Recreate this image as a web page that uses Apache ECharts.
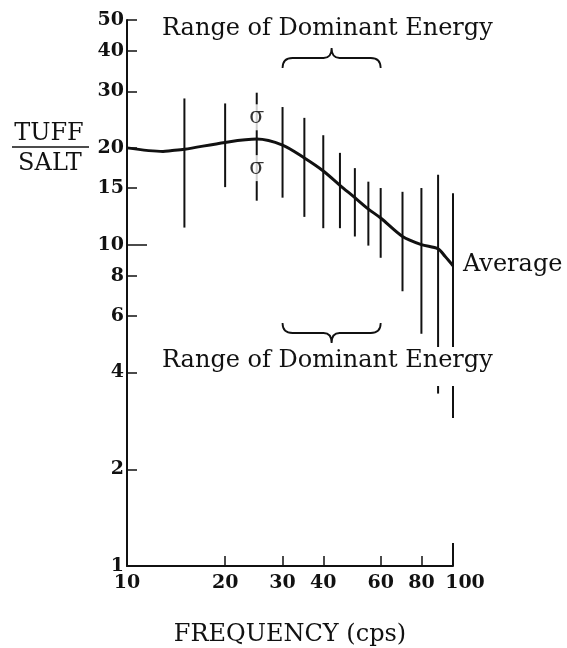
<!DOCTYPE html>
<html>
<head>
<meta charset="utf-8">
<script src="https://cdn.jsdelivr.net/npm/echarts@6/dist/echarts.min.js"></script>
<style>
  html, body { margin: 0; padding: 0; background: #fff; }
  #chart { width: 567px; height: 648px; }
</style>
</head>
<body>
<div id="chart"></div>
<script>
  // axis ticks
  const freqTicks = [10, 20, 30, 40, 60, 80, 100];
  const ratioTicks = [1, 2, 4, 6, 8, 10, 15, 20, 30, 40, 50];

  // average tuff/salt curve
  const avgFreq = [10, 12.9, 13.6, 15, 20, 25, 30, 35, 40, 45, 50, 55, 60, 70, 80, 90, 94.5, 100];
  const avgRatio = [20, 19.5, 19.6, 19.8, 20.8, 21.3, 20.4, 18.6, 16.95, 15.3, 14.0, 12.9, 12.1, 10.6, 10.0, 9.7, 9.2, 8.6];

  // scatter bars
  const barFreq = [15, 20, 25, 30, 35, 40, 45, 50, 55, 60, 70, 80, 90, 100];
  const barHigh = [28.5, 27.5, 29.7, 26.8, 24.8, 21.9, 19.3, 17.3, 15.7, 15.0, 14.6, 15.0, 16.5, 14.45];
  const barLow = [11.3, 15.1, 13.7, 14.0, 12.2, 11.25, 11.25, 10.6, 9.93, 9.1, 7.16, 5.28, 3.44, 2.89];

  // sigma marks on the 25 cps bar
  const sigmaFreq = [25, 25];
  const sigmaRatio = [24.9, 17.3];

  // range of dominant energy (cps)
  const dominantRange = [30, 60];

  const FONT = 'DejaVu Serif';
  const INK = '#111';

  const chart = echarts.init(document.getElementById('chart'));

  const tickLabel = {
    fontFamily: FONT,
    fontSize: 19,
    fontWeight: 'bold',
    color: INK
  };

  // curly brace between x1 and x2, ends at yEnd, cusp at yCusp
  function bracePath(x1, x2, yEnd, yMid, yCusp) {
    const xm = (x1 + x2) / 2;
    return 'M' + x1 + ',' + yEnd +
      'Q' + x1 + ',' + yMid + ',' + (x1 + 10) + ',' + yMid +
      'L' + (xm - 8) + ',' + yMid +
      'Q' + xm + ',' + yMid + ',' + xm + ',' + yCusp +
      'Q' + xm + ',' + yMid + ',' + (xm + 8) + ',' + yMid +
      'L' + (x2 - 10) + ',' + yMid +
      'Q' + x2 + ',' + yMid + ',' + x2 + ',' + yEnd;
  }

  const option = {
    animation: false,
    backgroundColor: '#fff',
    grid: { left: 127, top: 20, width: 326, height: 546, outerBoundsMode: 'none' },
    xAxis: [
      {
        type: 'log',
        logBase: 10,
        min: 10,
        max: 100,
        axisLine: { lineStyle: { color: INK, width: 2 } },
        axisTick: {
          inside: true,
          length: 10,
          customValues: [20, 30, 40, 60, 80],
          lineStyle: { color: INK, width: 1.5 }
        },
        axisLabel: Object.assign({}, tickLabel, {
          customValues: freqTicks,
          margin: 8,
          formatter: v => {
            const n = Math.round(v);
            return n === 100 ? '{r|100}' : String(n);
          },
          rich: { r: Object.assign({}, tickLabel, { padding: [0, 0, 0, 24] }) }
        }),
        splitLine: { show: false },
        name: 'FREQUENCY (cps)',
        nameLocation: 'middle',
        nameGap: 57,
        nameTextStyle: { fontFamily: FONT, fontSize: 24, color: INK }
      },
      {
        type: 'log',
        logBase: 10,
        min: 10,
        max: 100,
        position: 'bottom',
        axisLine: { show: false },
        axisLabel: { show: false },
        splitLine: { show: false },
        axisTick: {
          inside: true,
          length: 23,
          customValues: [100],
          lineStyle: { color: INK, width: 2 }
        }
      }
    ],
    yAxis: [
      {
        type: 'log',
        logBase: 10,
        min: 1,
        max: 50,
        position: 'left',
        axisLine: { lineStyle: { color: INK, width: 2 } },
        axisTick: {
          inside: true,
          length: 10,
          customValues: [2, 4, 6, 8, 15, 20, 30, 40, 50],
          lineStyle: { color: INK, width: 1.5 }
        },
        axisLabel: Object.assign({}, tickLabel, {
          customValues: ratioTicks,
          margin: 3,
          formatter: v => String(Math.round(v))
        }),
        splitLine: { show: false }
      },
      {
        type: 'log',
        logBase: 10,
        min: 1,
        max: 50,
        position: 'left',
        axisLine: { show: false },
        axisLabel: { show: false },
        splitLine: { show: false },
        axisTick: {
          inside: true,
          length: 20,
          customValues: [10],
          lineStyle: { color: INK, width: 1.5 }
        }
      }
    ],
    series: [
      {
        name: 'range',
        type: 'custom',
        data: barFreq.map((f, i) => [f, barLow[i], barHigh[i]]),
        encode: { x: 0, y: [1, 2] },
        z: 2,
        renderItem: (params, api) => {
          const lo = api.coord([api.value(0), api.value(1)]);
          const hi = api.coord([api.value(0), api.value(2)]);
          return {
            type: 'line',
            shape: { x1: lo[0], y1: lo[1], x2: hi[0], y2: hi[1] },
            style: { stroke: INK, lineWidth: 2 }
          };
        }
      },
      {
        name: 'Average',
        type: 'line',
        data: avgFreq.map((f, i) => [f, avgRatio[i]]),
        smooth: 0.3,
        symbol: 'none',
        z: 3,
        lineStyle: { color: INK, width: 3 }
      },
      {
        name: 'sigma',
        type: 'scatter',
        data: sigmaFreq.map((f, i) => [f, sigmaRatio[i]]),
        symbolSize: 0,
        z: 4,
        label: {
          show: true,
          position: 'inside',
          formatter: 'σ',
          fontFamily: FONT,
          fontSize: 22,
          color: '#000',
          backgroundColor: '#fff',
          padding: [2, 1, 2, 1]
        }
      },
      {
        name: 'dominant',
        type: 'custom',
        data: [dominantRange],
        encode: { x: [0, 1] },
        z: 2,
        renderItem: (params, api) => {
          const x1 = api.coord([api.value(0), 1])[0];
          const x2 = api.coord([api.value(1), 1])[0];
          return {
            type: 'group',
            children: [
              {
                type: 'path',
                shape: { pathData: bracePath(x1, x2, 68, 58, 48) },
                style: { stroke: INK, lineWidth: 1.8, fill: null }
              },
              {
                type: 'path',
                shape: { pathData: bracePath(x1, x2, 323, 333, 343) },
                style: { stroke: INK, lineWidth: 1.8, fill: null }
              }
            ]
          };
        }
      }
    ],
    graphic: [
      {
        type: 'text', left: 162, top: 17, z: 100,
        style: { text: 'Range of Dominant Energy', font: '24px "DejaVu Serif"', fill: INK }
      },
      {
        type: 'text', left: 158, top: 347, z: 100,
        style: {
          text: 'Range of Dominant Energy', font: '24px "DejaVu Serif"', fill: INK,
          backgroundColor: '#fff', padding: [2, 4, 13, 4]
        }
      },
      {
        type: 'text', left: 463, top: 253, z: 100,
        style: { text: 'Average', font: '24px "DejaVu Serif"', fill: INK }
      },
      {
        type: 'text', x: 49, y: 134, z: 100,
        style: { text: 'TUFF', font: '24px "DejaVu Serif"', fill: INK, align: 'center', verticalAlign: 'middle' }
      },
      {
        type: 'line', z: 100,
        shape: { x1: 12, y1: 147, x2: 89, y2: 147 },
        style: { stroke: INK, lineWidth: 1.5 }
      },
      {
        type: 'text', x: 50, y: 164, z: 100,
        style: { text: 'SALT', font: '24px "DejaVu Serif"', fill: INK, align: 'center', verticalAlign: 'middle' }
      }
    ]
  };

  chart.setOption(option);
</script>
</body>
</html>
